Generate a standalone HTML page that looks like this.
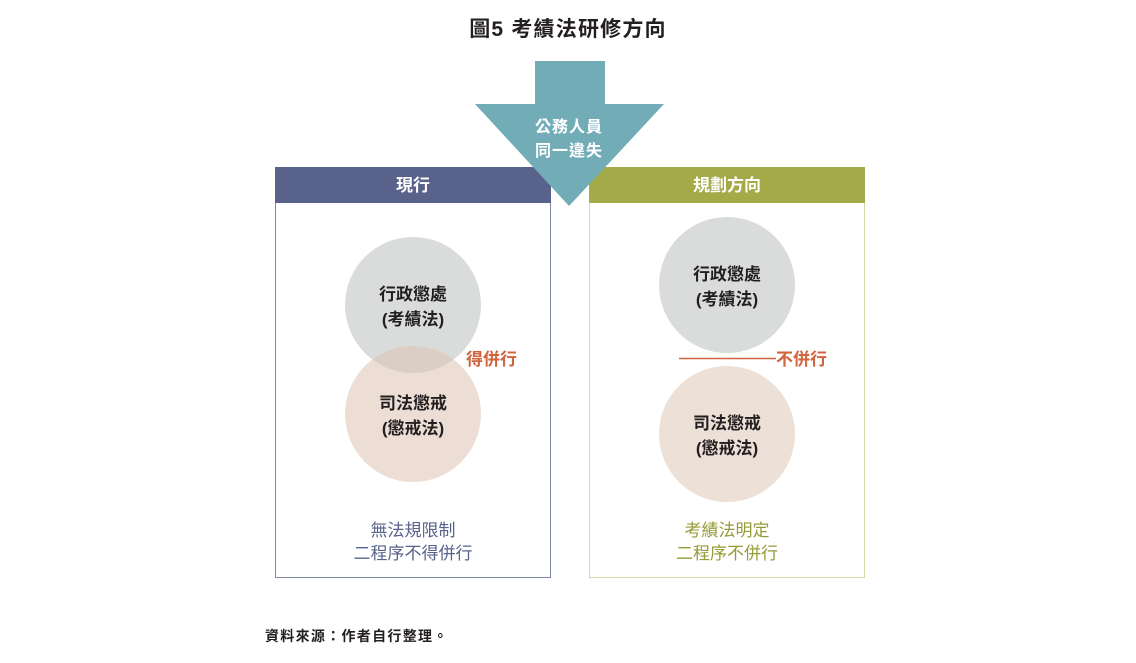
<!DOCTYPE html>
<html><head><meta charset="utf-8"><style>
body{margin:0;background:#fff;width:1136px;height:658px;overflow:hidden}
svg text{font-family:"Liberation Sans","Noto Sans CJK TC",sans-serif}
</style></head><body>
<svg width="1136" height="658" viewBox="0 0 1136 658">
<text x="568" y="36" text-anchor="middle" font-size="21" font-weight="bold" letter-spacing="1.2" fill="#231f20">圖5 考績法研修方向</text>
<rect x="275.5" y="167.5" width="275" height="410" fill="#fff" stroke="#8089aa"/>
<rect x="275" y="167" width="276" height="36" fill="#58628b"/>
<text x="413" y="191" text-anchor="middle" font-size="17" font-weight="bold" fill="#fff">現行</text>
<rect x="589.5" y="167.5" width="275" height="410" fill="#fff" stroke="#d4d9a8"/>
<rect x="589" y="167" width="276" height="36" fill="#a4aa48"/>
<text x="727" y="191" text-anchor="middle" font-size="17" font-weight="bold" fill="#fff">規劃方向</text>
<polygon points="535,61 605,61 605,104 664,104 569,206 475,104 535,104" fill="#72adb7"/>
<text x="569" y="132" text-anchor="middle" font-size="16" font-weight="bold" letter-spacing="1" fill="#fff">公務人員</text>
<text x="569" y="156" text-anchor="middle" font-size="16" font-weight="bold" letter-spacing="1" fill="#fff">同一違失</text>
<circle cx="413" cy="305" r="68" fill="#dadcdc"/>
<circle cx="413" cy="414" r="68" fill="#ddc2b0" fill-opacity="0.55"/>
<text x="413" y="300" text-anchor="middle" font-size="17" font-weight="bold" fill="#231f20">行政懲處</text>
<text x="413" y="325" text-anchor="middle" font-size="17" font-weight="bold" fill="#231f20">(考績法)</text>
<text x="413" y="409" text-anchor="middle" font-size="17" font-weight="bold" fill="#231f20">司法懲戒</text>
<text x="413" y="434" text-anchor="middle" font-size="17" font-weight="bold" fill="#231f20">(懲戒法)</text>
<text x="466" y="365" font-size="17" font-weight="bold" fill="#d0643f">得併行</text>
<circle cx="727" cy="285" r="68" fill="#dadcdc"/>
<circle cx="727" cy="434" r="68" fill="#ede0d7"/>
<text x="727" y="280" text-anchor="middle" font-size="17" font-weight="bold" fill="#231f20">行政懲處</text>
<text x="727" y="305" text-anchor="middle" font-size="17" font-weight="bold" fill="#231f20">(考績法)</text>
<text x="727" y="429" text-anchor="middle" font-size="17" font-weight="bold" fill="#231f20">司法懲戒</text>
<text x="727" y="454" text-anchor="middle" font-size="17" font-weight="bold" fill="#231f20">(懲戒法)</text>
<line x1="679" y1="358.5" x2="776" y2="358.5" stroke="#d0643f" stroke-width="1.5"/>
<text x="776" y="365" font-size="17" font-weight="bold" fill="#d0643f">不併行</text>
<text x="413" y="536" text-anchor="middle" font-size="17" fill="#58628b">無法規限制</text>
<text x="413" y="559" text-anchor="middle" font-size="17" fill="#58628b">二程序不得併行</text>
<text x="727" y="536" text-anchor="middle" font-size="17" fill="#959b36">考績法明定</text>
<text x="727" y="559" text-anchor="middle" font-size="17" fill="#959b36">二程序不併行</text>
<text x="265" y="641" font-size="14" font-weight="bold" letter-spacing="1.3" fill="#231f20">資料來源：作者自行整理。</text>
</svg>
</body></html>
